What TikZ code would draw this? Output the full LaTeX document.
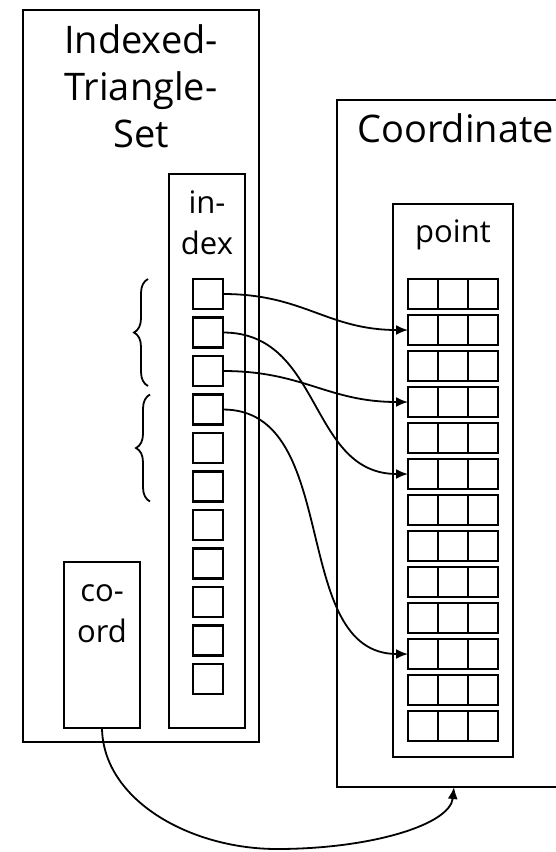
\documentclass[tikz,border=0pt]{standalone}
\usepackage{fontspec}
\setmainfont{Open Sans}
\usetikzlibrary{arrows.meta,decorations.pathreplacing}
\begin{document}
\begin{tikzpicture}[x=1pt,y=-1pt,
  box/.style={draw,line width=2.4pt,inner sep=0pt,outer sep=0pt,anchor=north west},
  cell/.style={draw,line width=2.4pt,minimum width=30pt,minimum height=30pt,inner sep=0pt,outer sep=0pt,anchor=north west},
  big/.style={font=\fontsize{38}{47}\selectfont,align=center,inner sep=0pt},
  small/.style={font=\fontsize{31}{41}\selectfont,align=center,inner sep=0pt},
  link/.style={line width=1.8pt,-{Latex[length=12pt,width=10pt]}},
  bracestyle/.style={line width=1.8pt,decorate,decoration={brace,amplitude=14pt}}]
\path[use as bounding box,clip] (0,0) rectangle (556,852);
% boxes
\node[box,minimum width=236pt,minimum height=732pt] (its) at (23,10) {};
\node[box,minimum width=76pt,minimum height=554pt] (idx) at (169,174) {};
\node[box,minimum width=76pt,minimum height=166pt] (co) at (64,562) {};
\node[box,minimum width=300pt,minimum height=687pt] (cb) at (337,100) {};
\node[box,minimum width=120pt,minimum height=553pt] (pt) at (393,204) {};
% texts
\node[big,anchor=base] (itstext) at (141,147) {Indexed-\\Triangle-\\Set};
\node[big,anchor=base west] (cbtext) at (357,142) {Coordinate};
\node[small,anchor=base] (idxtext) at (207,254) {in-\\dex};
\node[small,anchor=base] (pttext) at (453,242) {point};
\node[small,anchor=base] (cotext) at (102,642) {co-\\ord};
% index cells
\foreach \k in {1,...,11}
  \node[cell] (i\k) at (193,{279+38.5*(\k-1)}) {};
% point cells
\foreach \r in {1,...,13}
  \foreach \c/\n in {1/a,2/b,3/c}
    \node[cell] (p\r\n) at ({408+30*(\c-1)},{279+36*(\r-1)}) {};
% braces
\draw[bracestyle] ([xshift=-45pt]i3.south west) -- ([xshift=-45pt]i1.north west);
\draw[bracestyle] ([xshift=-43pt]i6.south west) -- ([xshift=-43pt]i4.north west);
% links
\draw[link] (i1.east) to[out=0,in=180,looseness=1.1] (p2a.west);
\draw[link] (i2.east) to[out=0,in=180,looseness=1.1] (p6a.west);
\draw[link] (i3.east) to[out=0,in=180,looseness=1.1] (p4a.west);
\draw[link] (i4.east) to[out=0,in=180,looseness=1.0] (p11a.west);
\coordinate (low) at (277,849);
\coordinate (cbin) at ([xshift=117pt]cb.south west);
\draw[link] (co.south) .. controls +(1,72) and +(-87,0) .. (low)
  .. controls +(93,0) and +(-4,38) .. (cbin);
\end{tikzpicture}
\end{document}
